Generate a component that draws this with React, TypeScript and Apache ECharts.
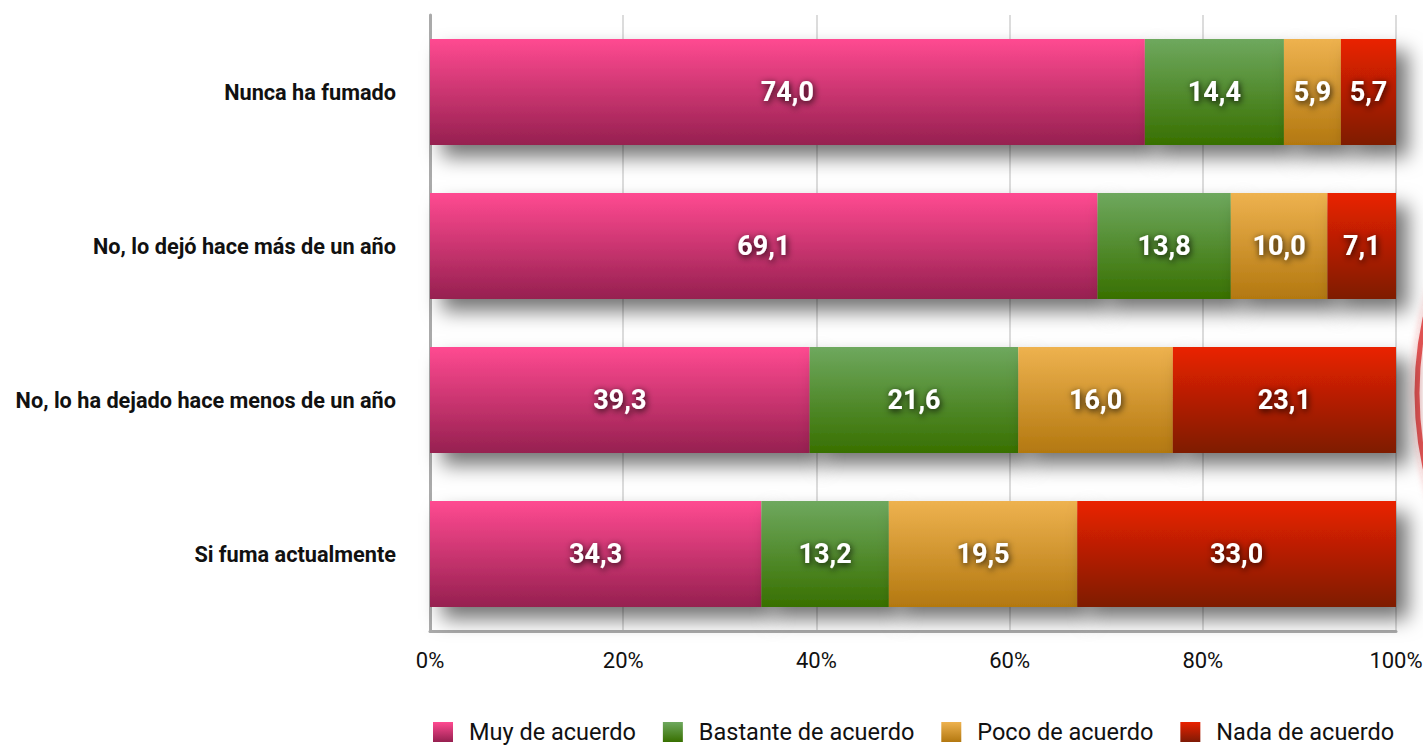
import React, { useEffect, useRef } from "react";
import * as echarts from "echarts";

const categories = [
  "Nunca ha fumado",
  "No, lo dejó hace más de un año",
  "No, lo ha dejado hace menos de un año",
  "Si fuma actualmente",
];
const seriesNames = ["Muy de acuerdo", "Bastante de acuerdo", "Poco de acuerdo", "Nada de acuerdo"];
const muy = [74.0, 69.1, 39.3, 34.3];
const bastante = [14.4, 13.8, 21.6, 13.2];
const poco = [5.9, 10.0, 16.0, 19.5];
const nada = [5.7, 7.1, 23.1, 33.0];
const xTicks = [0, 20, 40, 60, 80, 100];

const gradients = [
  ["#ff4a91", "#962050"],
  ["#6ea85e", "#387000"],
  ["#eeb24f", "#b37810"],
  ["#ea2200", "#7e1a05"],
];

const FONT = "Roboto";

export default function App() {
  const ref = useRef<HTMLDivElement>(null);
  useEffect(() => {
    if (!ref.current) return;
    const chart = echarts.init(ref.current, null, { renderer: "svg" });
    const data = [muy, bastante, poco, nada];
    const grad = (i: number) =>
      new echarts.graphic.LinearGradient(0, 0, 0, 1, [
        { offset: 0, color: gradients[i][0] },
        { offset: 1, color: gradients[i][1] },
      ]);
    chart.setOption({
      animation: false,
      textStyle: { fontFamily: FONT },
      grid: { left: 430, right: 27, top: 15, bottom: 116, containLabel: false, outerBoundsMode: "none" },
      graphic: [
        {
          type: "circle",
          shape: { cx: 1767, cy: 393, r: 350 },
          style: {
            fill: "none",
            stroke: "rgba(215,40,40,0.75)",
            lineWidth: 5,
            shadowColor: "rgba(215,40,40,0.6)",
            shadowBlur: 8,
          },
          silent: true,
          z: -1,
        },
      ],
      legend: {
        bottom: 3,
        left: 433,
        padding: 0,
        itemWidth: 20,
        itemHeight: 20,
        itemGap: 27,
        icon: "rect",
        textStyle: { fontSize: 23.5, lineHeight: 24, color: "#111", fontFamily: FONT, padding: [0, 0, 0, 11] },
        data: seriesNames.map((n, i) => ({ name: n, itemStyle: { color: grad(i) } })),
      },
      xAxis: {
        type: "value",
        min: 0,
        max: 100,
        interval: 20,
        axisLine: { show: true, lineStyle: { color: "#aaaaaa", width: 3 } },
        axisTick: { show: false },
        splitLine: { show: true, lineStyle: { color: "#dcdcdc", width: 2 } },
        axisLabel: {
          fontSize: 22,
          color: "#111",
          margin: 18,
          fontFamily: FONT,
          formatter: (v: number) => (xTicks.includes(v) ? v + "%" : ""),
        },
      },
      yAxis: {
        type: "category",
        inverse: true,
        data: categories,
        axisLine: { show: true, lineStyle: { color: "#aaaaaa", width: 3 } },
        axisTick: { show: false },
        axisLabel: { fontSize: 21.7, fontWeight: "bold", color: "#111", margin: 34, fontFamily: FONT },
      },
      series: data.map((vals, i) => ({
        name: seriesNames[i],
        type: "bar",
        stack: "total",
        barWidth: 106,
        data: vals,
        itemStyle: {
          color: grad(i),
          shadowColor: "rgba(0,0,0,0.55)",
          shadowBlur: 20,
          shadowOffsetX: 12,
          shadowOffsetY: 12,
        },
        label: {
          show: true,
          position: "inside",
          color: "#fff",
          fontSize: 27,
          fontWeight: "bold",
          fontFamily: FONT,
          textShadowColor: "rgba(0,0,0,0.95)",
          textShadowBlur: 7,
          textShadowOffsetX: 1,
          textShadowOffsetY: 2,
          formatter: (p: any) => Number(p.value).toFixed(1).replace(".", ","),
        },
      })),
    });
    return () => chart.dispose();
  }, []);
  return <div ref={ref} style={{ width: 1423, height: 747, position: "absolute", left: 0, top: 0 }} />;
}
